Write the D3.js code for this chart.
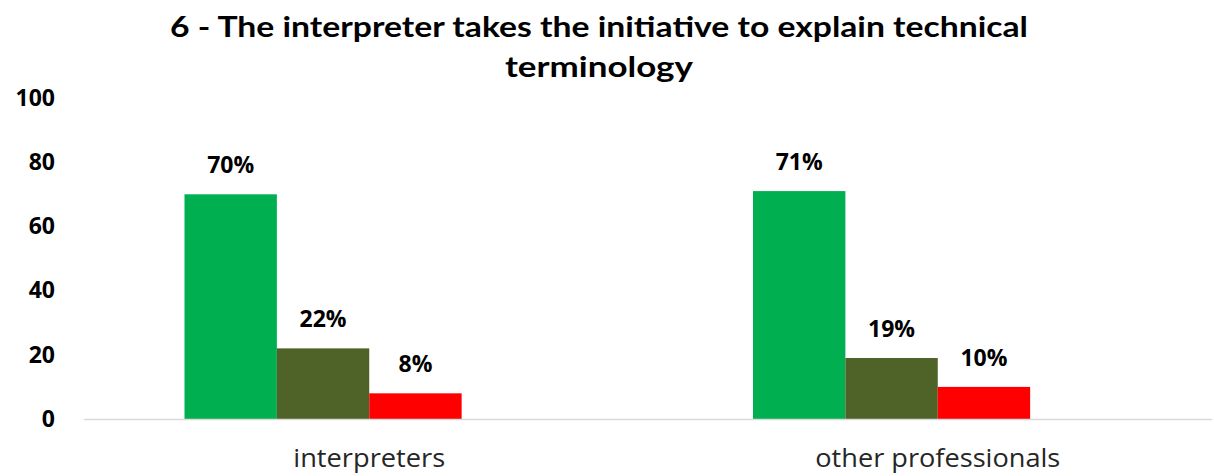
<!DOCTYPE html>
<html>
<head>
<meta charset="utf-8">
<script src="https://cdn.jsdelivr.net/npm/d3@7"></script>
<style>
  html, body { margin: 0; padding: 0; background: #fff; }
  svg { display: block; }
</style>
</head>
<body>
<svg id="chart" width="1214" height="476"></svg>
<script>
// Survey question 6: share of answers per respondent group (percent)
const titleLines = ["6 - The interpreter takes the initiative to explain technical", "terminology"];
const categories = ["interpreters", "other professionals"];
const seriesNames = ["agree", "neutral", "disagree"];
const seriesColors = ["#00b050", "#4f6228", "#ff0000"];
const valuesAgree = [70, 71];
const valuesNeutral = [22, 19];
const valuesDisagree = [8, 10];
const yTicks = [0, 20, 40, 60, 80, 100];

const seriesValues = [valuesAgree, valuesNeutral, valuesDisagree];

const svg = d3.select("#chart");
const plot = { left: 85, right: 1222, top: 98, bottom: 419 };

const y = d3.scaleLinear().domain([0, 100]).range([plot.bottom, plot.top]);
const x0 = d3.scaleBand().domain(categories).range([plot.left, plot.right]).padding(0);
// Inner band keeps four slots per category; the fourth one stays empty,
// which shifts each cluster slightly left of its category label.
const slots = d3.range(seriesNames.length + 1);
const groupW = x0.bandwidth() * 0.65;
const x1 = d3.scaleBand().domain(slots).range([0, groupW]).padding(0);
const groupOffset = (x0.bandwidth() - groupW) / 2;

// Title (two centred lines, condensed to a narrow width)
const titleWidths = [858, 188];
svg.append("g")
  .selectAll("text")
  .data(titleLines)
  .join("text")
  .attr("x", 599)
  .attr("y", (d, i) => 37 + i * 40)
  .attr("text-anchor", "middle")
  .attr("font-family", "Lato, 'Open Sans', sans-serif")
  .attr("font-weight", 700)
  .attr("font-size", 28)
  .attr("fill", "#000")
  .attr("textLength", (d, i) => titleWidths[i])
  .attr("lengthAdjust", "spacingAndGlyphs")
  .text(d => d);

// Y axis labels (no line, no ticks)
const yAxis = svg.append("g")
  .attr("transform", `translate(60,0)`)
  .call(d3.axisLeft(y).tickValues(yTicks).tickSize(0).tickPadding(5));
yAxis.select(".domain").remove();
yAxis.selectAll("text")
  .attr("font-family", "'Open Sans', sans-serif")
  .attr("font-weight", 700)
  .attr("font-size", 23)
  .attr("fill", "#000");

// Bars
const groups = svg.append("g")
  .selectAll("g")
  .data(categories)
  .join("g")
  .attr("transform", d => `translate(${x0(d) + groupOffset},0)`);

const cells = (c, ci) => seriesNames.map((s, si) => ({ s, si, v: seriesValues[si][ci] }));

groups.selectAll("rect")
  .data(cells)
  .join("rect")
  .attr("x", d => x1(d.si))
  .attr("y", d => y(d.v))
  .attr("width", x1.bandwidth())
  .attr("height", d => y(0) - y(d.v))
  .attr("fill", d => seriesColors[d.si]);

// Value labels above each bar
groups.selectAll("text")
  .data(cells)
  .join("text")
  .attr("x", d => x1(d.si) + x1.bandwidth() / 2)
  .attr("y", d => y(d.v) - 21)
  .attr("text-anchor", "middle")
  .attr("font-family", "'Open Sans', sans-serif")
  .attr("font-weight", 700)
  .attr("font-size", 23)
  .attr("fill", "#000")
  .text(d => d.v + "%");

// Baseline
svg.append("line")
  .attr("x1", plot.left - 1)
  .attr("x2", 1212)
  .attr("y1", y(0) + 0.5)
  .attr("y2", y(0) + 0.5)
  .attr("stroke", "#d9d9d9")
  .attr("stroke-width", 1.5);

// Category axis
const labelWidths = [152, 245];
const xAxis = svg.append("g")
  .attr("transform", `translate(0,${plot.bottom})`)
  .call(d3.axisBottom(x0).tickSize(0));
xAxis.select(".domain").remove();
xAxis.selectAll("text")
  .attr("y", 48)
  .attr("dy", null)
  .attr("font-family", "'Open Sans', sans-serif")
  .attr("font-size", 25)
  .attr("fill", "#262626")
  .attr("textLength", (d, i) => labelWidths[i])
  .attr("lengthAdjust", "spacingAndGlyphs");
</script>
</body>
</html>
